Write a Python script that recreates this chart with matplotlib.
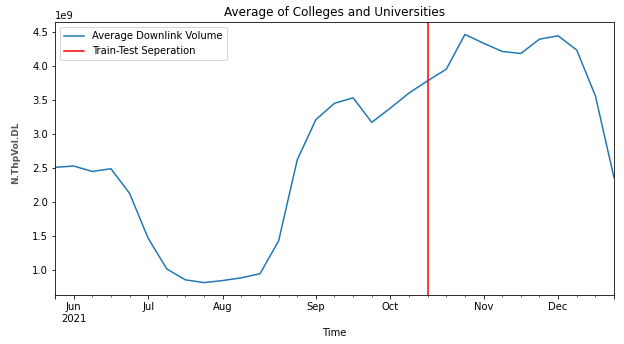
import numpy as np
import pandas as pd
import matplotlib
matplotlib.use('Agg')
import matplotlib.pyplot as plt

# weekly averages (W-SUN), values in bytes
weeks = pd.date_range('2021-05-30', periods=31, freq='W')
downlink = [2.51, 2.53, 2.45, 2.49, 2.13, 1.47, 1.02, 0.86, 0.82, 0.85,
            0.89, 0.95, 1.43, 2.62, 3.21, 3.45, 3.53, 3.17, 3.38, 3.60,
            3.78, 3.95, 4.46, 4.33, 4.21, 4.18, 4.39, 4.44, 4.23, 3.56,
            2.36]
split_date = weeks[20]

series = pd.Series(np.array(downlink) * 1e9, index=weeks)

fig = plt.figure(figsize=(624 / 72, 344 / 72), dpi=72)
ax = fig.add_axes([55 / 624, 1 - 295 / 344, 559 / 624, 273 / 344])
series.plot(ax=ax, color='#1f77b4', label='Average Downlink Volume')
ax.axvline(x=split_date, color='red', label='Train-Test Seperation')

ax.set_title('Average of Colleges and Universities')
ax.set_xlabel('Time')
ax.set_ylabel('N.ThpVol.DL', color='#555555', fontweight='bold', fontsize=9)
ax.yaxis.set_label_coords(-0.063, 0.52)
ax.legend(loc='upper left')

fig.savefig('out.png', dpi=72, facecolor='white')
